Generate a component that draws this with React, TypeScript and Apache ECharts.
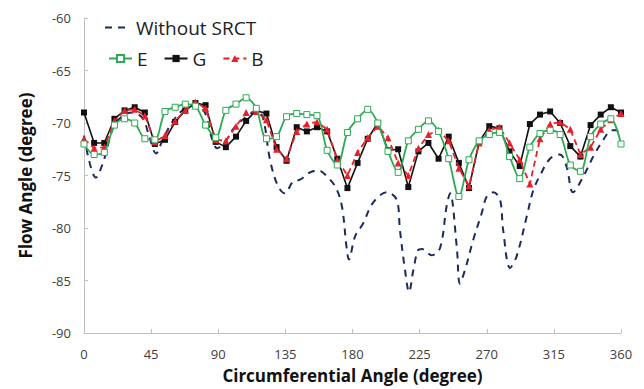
import React, { useEffect, useRef } from "react";
import * as echarts from "echarts";

const angles = [0, 6.8, 13.6, 20.4, 27.2, 34.0, 40.8, 47.5, 54.3, 61.1, 67.9, 74.7, 81.5, 88.3, 95.1, 101.9, 108.7, 115.5, 122.3, 129.1, 135.8, 142.6, 149.4, 156.2, 163.0, 169.8, 176.6, 183.4, 190.2, 197.0, 203.8, 210.6, 217.4, 224.2, 230.9, 237.7, 244.5, 251.3, 258.1, 264.9, 271.7, 278.5, 285.3, 292.1, 298.9, 305.7, 312.5, 319.2, 326.0, 332.8, 339.6, 346.4, 353.2, 360];

const seriesE = [-72, -73, -72.8, -70.2, -69.6, -70, -71.5, -71.6, -68.9, -68.5, -68.2, -68.4, -70.2, -71.4, -68.8, -68.2, -67.6, -68.6, -71.5, -71.3, -69.4, -69.1, -69.2, -69.3, -72.6, -74.0, -70.9, -69.6, -68.7, -70, -72.7, -74.7, -71.7, -70.6, -69.8, -70.8, -73.4, -77, -73.5, -71.7, -71.1, -70.9, -73.2, -75.3, -72.3, -71, -70.7, -71.1, -74, -74.6, -71.3, -70.1, -69.6, -72];

const seriesG = [-69, -71.9, -71.9, -69.6, -68.8, -68.5, -69, -72, -71.6, -69.9, -68.8, -68.1, -68.3, -71.8, -72.3, -71.3, -69.8, -68.8, -69.1, -72.3, -73.6, -70.4, -70.8, -70.4, -70.8, -73.4, -76.2, -73.8, -71.5, -70, -72.6, -72.5, -76.1, -72.7, -71.9, -73.4, -71.3, -73.8, -76.2, -71.8, -70.3, -70.5, -72.7, -74.1, -70.1, -69.2, -68.9, -70, -72.2, -73.2, -70.2, -69.2, -68.5, -69];

const seriesB = [-71.5, -72.4, -72.3, -69.8, -68.8, -68.7, -69.3, -71.8, -71.2, -69.8, -68.8, -68, -68.6, -71.6, -71.7, -70.3, -69, -68.9, -69.7, -72.5, -73.4, -70.8, -70.1, -69.9, -70.6, -73.5, -75, -72.8, -71.4, -70.3, -71.4, -73.8, -75, -72.4, -71.1, -70.7, -71.7, -74.3, -76, -71.9, -70.7, -70.4, -71.9, -73.5, -75.8, -71.5, -70.1, -69.9, -70.6, -73, -72.3, -70.6, -69.7, -69.1];

const baseAngles = [0, 8, 13.4, 19.4, 26, 32.8, 39.5, 44.2, 48.3, 53, 59.7, 67.7, 74.4, 81, 85.8, 89.2, 94.5, 101, 109, 116, 120, 124.7, 130, 134.7, 140, 144.8, 151.5, 157, 163, 169, 173, 176, 177.6, 181.7, 187, 193.7, 203, 209.6, 211.8, 215.2, 217.9, 220.8, 224, 226.6, 233, 238.7, 243, 245.4, 249.9, 252, 255.4, 261, 266.6, 270, 274.4, 278.9, 281, 285.6, 290, 296.8, 301.2, 305.7, 312.4, 319, 323.6, 327.8, 334.7, 341.4, 348.1, 353.8, 357, 360];
const baseValues = [-71.2, -75.2, -73.5, -70.5, -69.3, -69, -69.6, -71.5, -72.9, -71.5, -69.8, -68.6, -68.3, -69, -71.5, -72.4, -71.8, -70.4, -69.4, -68.8, -69.5, -73.5, -76, -76.7, -75.6, -75.4, -74.7, -74.5, -75.1, -76.2, -78, -81.8, -83, -80.8, -79.6, -77.6, -76.6, -77.3, -80.2, -84, -86.1, -84, -82.1, -82, -82.6, -81.9, -78, -76.7, -81.8, -85.3, -84, -81.1, -78.6, -77, -76.6, -77.3, -80.2, -83.8, -82.7, -78.9, -76.4, -75, -73.4, -73, -74.2, -76.6, -75.1, -73.2, -71.6, -70.7, -70.7, -71.3];

const xTicks = [0, 45, 90, 135, 180, 225, 270, 315, 360];
const yTicks = [-90, -85, -80, -75, -70, -65, -60];

const FONT = "'Open Sans', 'Noto Sans', sans-serif";

export default function App() {
  const ref = useRef<HTMLDivElement>(null);
  useEffect(() => {
    if (!ref.current) return;
    const chart = echarts.init(ref.current, null, { renderer: "svg" });
    const pair = (xs: number[], ys: number[]) => xs.map((x, i) => [x, ys[i]]);
    chart.setOption({
      animation: false,
      backgroundColor: "#ffffff",
      textStyle: { fontFamily: FONT },
      grid: { left: 84, right: 23, top: 18, bottom: 56, containLabel: false },
      legend: [
        {
          data: [{ name: "Without SRCT", itemStyle: { opacity: 0 } }],
          left: 99,
          top: 13,
          itemWidth: 26,
          itemHeight: 10,
          itemStyle: { opacity: 0 },
          textStyle: { fontSize: 19, color: "#222", fontFamily: FONT },
        },
        {
          data: ["E", "G", "B"],
          left: 103,
          top: 44,
          itemWidth: 23,
          itemHeight: 9,
          itemGap: 16,
          textStyle: { fontSize: 19, color: "#222", fontFamily: FONT },
        },
      ],
      xAxis: {
        type: "value",
        min: xTicks[0],
        max: xTicks[xTicks.length - 1],
        interval: 45,
        name: "Circumferential Angle (degree)",
        nameLocation: "middle",
        nameGap: 34,
        nameTextStyle: { fontSize: 17, fontWeight: "bold", color: "#111", fontFamily: FONT },
        axisLine: { lineStyle: { color: "#c0c0c0", width: 1 } },
        axisTick: { inside: true, length: 4, lineStyle: { color: "#c0c0c0" } },
        axisLabel: { fontSize: 13, color: "#404040", margin: 14 },
        splitLine: { show: false },
      },
      yAxis: {
        type: "value",
        min: yTicks[0],
        max: yTicks[yTicks.length - 1],
        interval: 5,
        name: "Flow Angle (degree)",
        nameLocation: "middle",
        nameGap: 50,
        nameTextStyle: { fontSize: 17, fontWeight: "bold", color: "#111", fontFamily: FONT },
        axisLine: { show: true, lineStyle: { color: "#c0c0c0", width: 1 } },
        axisTick: { show: true, inside: true, length: 4, lineStyle: { color: "#c0c0c0" } },
        axisLabel: { fontSize: 13, color: "#404040", margin: 13 },
        splitLine: { show: false },
      },
      series: [
        {
          name: "Without SRCT",
          type: "line",
          data: pair(baseAngles, baseValues),
          smooth: 0.35,
          symbol: "none",
          lineStyle: { color: "#1d2b5c", width: 2, type: [7, 6] },
          itemStyle: { color: "#1d2b5c" },
          z: 1,
        },
        {
          name: "G",
          type: "line",
          data: pair(angles, seriesG),
          symbol: "rect",
          symbolSize: 6,
          lineStyle: { color: "#111", width: 1.6 },
          itemStyle: { color: "#111" },
          z: 2,
        },
        {
          name: "B",
          type: "line",
          data: pair(angles, seriesB),
          symbol: "triangle",
          symbolSize: 7,
          lineStyle: { color: "#e8202a", width: 1.8, type: [6, 4] },
          itemStyle: { color: "#e8202a" },
          z: 3,
        },
        {
          name: "E",
          type: "line",
          data: pair(angles, seriesE),
          smooth: 0.3,
          symbol: "rect",
          symbolSize: 6,
          lineStyle: { color: "#2eaa55", width: 1.8 },
          itemStyle: { color: "#ffffff", borderColor: "#2eaa55", borderWidth: 1 },
          z: 4,
        },
      ],
    });
    return () => chart.dispose();
  }, []);
  return (
    <div
      ref={ref}
      style={{ position: "fixed", left: 0, top: 0, width: 644, height: 389 }}
    />
  );
}
